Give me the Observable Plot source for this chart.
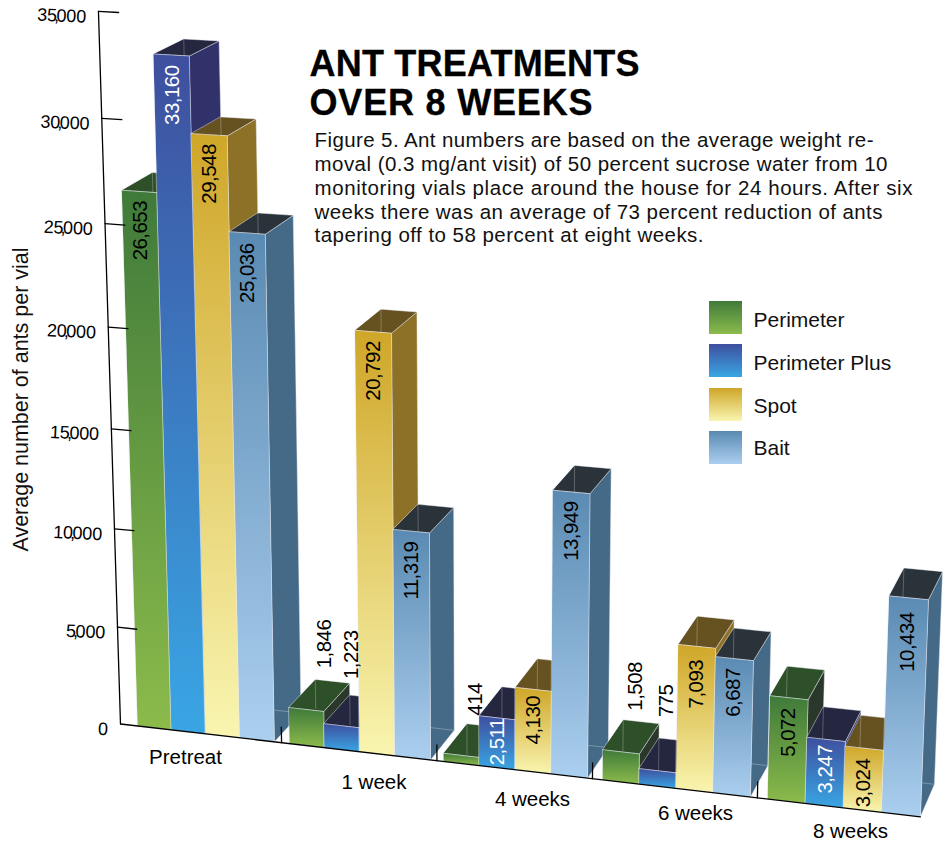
<!DOCTYPE html>
<html>
<head>
<meta charset="utf-8">
<style>
html,body{margin:0;padding:0;background:#fff;}
</style>
<script src="https://cdn.jsdelivr.net/npm/d3@7"></script>
<script src="https://cdn.jsdelivr.net/npm/@observablehq/plot@0.6"></script>
</head>
<body>
<div id="chart"></div>
<script>
// ---- data ----
const categories = ["Pretreat", "1 week", "4 weeks", "6 weeks", "8 weeks"];
const seriesNames = ["Perimeter", "Perimeter Plus", "Spot", "Bait"];
const perimeter = [26653, 1846, 414, 1508, 5072];
const perimeterPlus = [33160, 1223, 2511, 775, 3247];
const spot = [29548, 20792, 4130, 7093, 3024];
const bait = [25036, 11319, 13949, 6687, 10434];
const yTicks = [0, 5000, 10000, 15000, 20000, 25000, 30000, 35000];
const titleLines = ["ANT TREATMENTS", "OVER 8 WEEKS"];
const noteLines = [
  "Figure 5. Ant numbers are based on the average weight re-",
  "moval (0.3 mg/ant visit) of 50 percent sucrose water from 10",
  "monitoring vials place around the house for 24 hours. After six",
  "weeks there was an average of 73 percent reduction of ants",
  "tapering off to 58 percent at eight weeks."
];
const yTitle = "Average number of ants per vial";

// ---- styles ----
const frontStops = [["#3f7a3a", "#8cbb4b"], ["#3e4f9e", "#39a6e4"], ["#cfa628", "#f9f5b0"], ["#5a8ab2", "#abcfef"]];
const sideColors = ["#29382a", "#32326a", "#8d7126", "#456a87"];
const topColors = ["#2e5029", "#25263f", "#655220", "#2a323a"];
const labelColors = ["#000", "#fff", "#000", "#000"];

// ---- camera of the pseudo-3D view: u along the floor (0..1), v in thousands of ants, d depth (0..1) ----
const A = -0.08388, B = -0.001623, C = 0.021;
const origin = [120, 723.5], vpU = [-8617, -290], vpV = [486, 12555], vpD = [1545, -634];
function project(u, value, d) {
  const v = value / 1000 * (1 - 0.018 * u);
  const w = 1 + A * u + B * v + C * d;
  return [
    (origin[0] + A * vpU[0] * u + B * vpV[0] * v + C * vpD[0] * d) / w,
    (origin[1] + A * vpU[1] * u + B * vpV[1] * v + C * vpD[1] * d) / w
  ];
}
const groupStarts = [0.0232, 0.2262, 0.425, 0.6233, 0.822];
const barWidths = [0.0458, 0.0456, 0.045, 0.0446, 0.0445];

const values = [perimeter, perimeterPlus, spot, bait];
// gap (px) from the front top edge to an inside label, or dx/dy from the back top edge for an outside one
const insideGap = [[11, null, null, null, 12], [12, null, 2, null, 7], [11, 11, 8, 15, 12], [12, 12, 11, 11, 16]];
const outsideOffset = {"0-1": [-8, -13], "1-1": [-16, -18], "0-2": [-9, -10], "0-3": [-6, -11], "1-3": [-11, -23]};

const faceMarks = [], barLabels = [];
const edge = {stroke: "#e8ecf4", strokeOpacity: 0.65, strokeWidth: 0.7};
function poly(pts, fill) {
  return Plot.line(pts, {x: d => d[0], y: d => d[1], fill, curve: "linear-closed", ...edge});
}
categories.forEach((cat, g) => {
  seriesNames.forEach((name, s) => {
    const val = values[s][g];
    const u0 = groupStarts[g] + s * barWidths[g], u1 = u0 + barWidths[g];
    const fl0 = project(u0, val, 0), fr0 = project(u1, val, 0);
    const bl0 = project(u0, val, 1), br0 = project(u1, val, 1);
    const fl = project(u0, 0, 0), fr = project(u1, 0, 0), br = project(u1, 0, 1);
    // side, top, front: painted left to right, so the next bar hides this one's side
    faceMarks.push(poly([fr, br, br0, fr0], sideColors[s]));
    faceMarks.push(poly([fl0, fr0, br0, bl0], topColors[s]));
    // faint wire of the back corner seen on the top face
    const t = (bl0[0] - fl0[0]) / (fr0[0] - fl0[0]);
    const yFront = fl0[1] + t * (fr0[1] - fl0[1]);
    const drop = (yFront - bl0[1]) / 20.5 * 1000;
    faceMarks.push(Plot.line([bl0, project(u0, val - drop, 1)], {x: d => d[0], y: d => d[1], stroke: "#fff", strokeOpacity: 0.35, strokeWidth: 0.7}));
    if (s === 3) {
      // faint back floor line seen through the side of the last bar
      const xFront = fr[0] + (fr0[0] - fr[0]) * 0.08;
      const du = (br[0] - xFront) / 770;
      faceMarks.push(Plot.line([project(u1 - du, 0, 1), br], {x: d => d[0], y: d => d[1], stroke: "#fff", strokeOpacity: 0.4, strokeWidth: 0.7}));
    }
    faceMarks.push(poly([fl, fr, fr0, fl0], `url(#front${s})`));

    const uc = (u0 + u1) / 2;
    const text = d3.format(",")(val);
    const gap = insideGap[s][g];
    if (gap !== null) {
      const top = project(uc, val, 0);
      const lower = project(uc, val - 1400, 0);
      barLabels.push({x: lower[0], y: top[1] + gap - 1.5, text, color: labelColors[s], anchor: "end"});
    } else {
      const off = outsideOffset[`${s}-${g}`];
      const p = project(uc, val, 1);
      barLabels.push({x: p[0] + off[0], y: p[1] + off[1], text, color: "#000", anchor: "start"});
    }
  });
});

// ---- axis ----
const axisLine = yTicks.filter(t => t === 0 || t === 35000).map(t => project(0, t, 0));
const baseLine = [project(0, 0, 0), project(1, 0, 0)];
const tickLen = 0.026;
const yTickLines = yTicks.slice(1).map(t => [project(0, t, 0), project(tickLen, t, 0)]);
const xTickU = [0.2158, 0.4167, 0.611, 0.81];
const xTickLines = xTickU.map(u => [project(u, 0, 0), project(u, 800, 0)]);
const yLabels = yTicks.map(t => {
  const p = project(0, t, 0);
  return {x: p[0] - 12.5, y: p[1] + 5.5, text: d3.format(",")(t)};
});
const line = pts => Plot.line(pts, {x: d => d[0], y: d => d[1], stroke: "#000", strokeWidth: 1.3});

// ---- placed texts ----
const categoryPlaces = [[185, 763], [373.5, 788], [532, 805], [695, 819], [850, 837]];
const titlePlaces = [[309, 75], [309, 114]];
const titleWidths = [330, 283];
const notePlaces = [[314, 146], [314, 170], [314, 194], [314, 218], [314, 241.5]];
const noteWidths = [559, 573, 598, 568, 389];
const legendX = [709, 742, 753];
const legendY = [[301, 334, 326], [344, 377, 369], [388, 421, 412], [431, 464, 454]];

const defs = () => {
  const d = d3.create("svg:defs");
  frontStops.forEach((st, i) => {
    const g = d.append("linearGradient").attr("id", `front${i}`).attr("x1", 0).attr("y1", 0).attr("x2", 0).attr("y2", 1);
    g.append("stop").attr("offset", "0%").attr("stop-color", st[0]);
    g.append("stop").attr("offset", "100%").attr("stop-color", st[1]);
  });
  return d.node();
};

const labelMark = (color, anchor) => Plot.text(barLabels.filter(d => d.color === color && d.anchor === anchor), {
  x: "x", y: "y", text: "text", rotate: -90, textAnchor: anchor, fontSize: 20.5, fill: color
});

const plot = Plot.plot({
  width: 948, height: 842,
  marginTop: 0, marginRight: 0, marginBottom: 0, marginLeft: 0,
  x: {domain: [0, 948], range: [0, 948], axis: null},
  y: {domain: [0, 842], range: [0, 842], axis: null},
  style: {fontFamily: "'Liberation Sans', Arial, sans-serif", background: "#fff", color: "#000"},
  marks: [
    defs,
    ...faceMarks,
    line(axisLine),
    line(baseLine),
    ...yTickLines.map(line),
    ...xTickLines.map(line),
    Plot.text(yLabels, {x: "x", y: "y", text: "text", textAnchor: "end", fontSize: 18, rotate: 2.5, fill: "#000"}),
    Plot.text([yTitle], {x: () => 20.6, y: () => 399, text: d => d, rotate: -90, fontSize: 21.5, fill: "#111"}),
    labelMark("#000", "end"),
    labelMark("#fff", "end"),
    labelMark("#000", "start"),
    Plot.text(categories, {x: (d, i) => categoryPlaces[i][0], y: (d, i) => categoryPlaces[i][1], text: d => d, fontSize: 20.5, lineAnchor: "bottom", fill: "#000"}),
    Plot.text(titleLines, {x: (d, i) => titlePlaces[i][0], y: (d, i) => titlePlaces[i][1], text: d => d, textAnchor: "start", lineAnchor: "bottom", fontSize: 36, fontWeight: "bold", fill: "#000", stroke: "#000", strokeWidth: 0.3}),
    Plot.text(noteLines, {x: (d, i) => notePlaces[i][0], y: (d, i) => notePlaces[i][1], text: d => d, textAnchor: "start", lineAnchor: "bottom", fontSize: 20.5, fill: "#111"}),
    ...seriesNames.map((n, i) => Plot.rect([n], {x1: () => legendX[0], x2: () => legendX[1], y1: () => legendY[i][0], y2: () => legendY[i][1], fill: `url(#front${i})`})),
    Plot.text(seriesNames, {x: () => legendX[2], y: (d, i) => legendY[i][2], text: d => d, textAnchor: "start", lineAnchor: "bottom", fontSize: 21, fill: "#111"})
  ]
});

// text fitting: the source type is wider set than any installed face
const root = d3.select(plot);
const tickSet = new Set(yLabels.map(d => d.text));
const barSet = new Set(barLabels.map(d => d.text));
root.selectAll("text").each(function () {
  const txt = this.textContent;
  const sel = d3.select(this);
  const m = txt.match(/^(\d+),(\d+)$/);
  if (tickSet.has(txt) && m) {
    // the thousands comma sits tight between the digits
    sel.text(m[1]).attr("letter-spacing", -0.2);
    sel.append("tspan").attr("dx", -2.5).text(",");
    sel.append("tspan").attr("dx", -2.5).text(m[2]);
  } else if (barSet.has(txt)) {
    sel.attr("letter-spacing", -0.55);
  } else if (titleLines.includes(txt)) {
    sel.attr("textLength", titleWidths[titleLines.indexOf(txt)]);
  } else if (noteLines.includes(txt)) {
    sel.attr("textLength", noteWidths[noteLines.indexOf(txt)]);
  } else if (txt === yTitle) {
    sel.attr("textLength", 304);
  }
});
document.getElementById("chart").appendChild(plot);
</script>
</body>
</html>
